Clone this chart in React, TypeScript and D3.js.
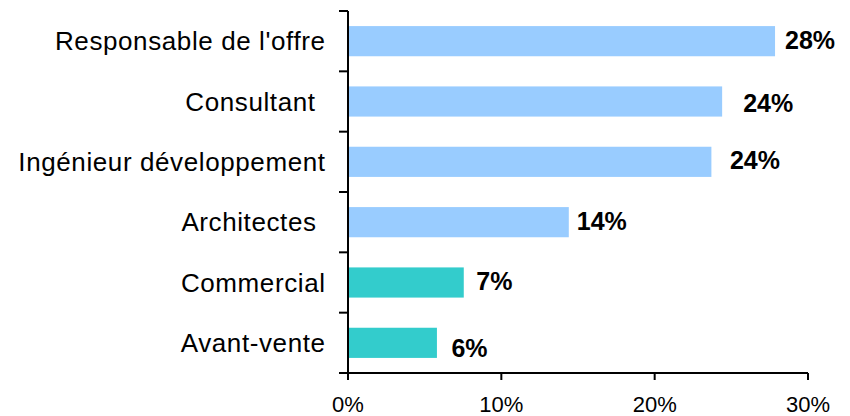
import React from "react";
import * as d3 from "d3";

const categories = [
  "Responsable de l'offre",
  "Consultant",
  "Ingénieur développement",
  "Architectes",
  "Commercial",
  "Avant-vente",
];
const values = [27.85, 24.4, 23.7, 14.4, 7.55, 5.8];
const valueLabels = ["28%", "24%", "24%", "14%", "7%", "6%"];
const barGroups = ["tech", "tech", "tech", "tech", "sales", "sales"];
const xTicks = [0, 10, 20, 30];
// layout nudges (px) for label placement, as in the original
const labelNudge = [1, 12, 9.5, -1, 3.5, 5.5];
const labelLift = [-1, 1, -2.3, -1, -2, 5.5];
const catNudge = [0, 10, 0, 9, 0, 0];

const W = 850;
const H = 416;
const left = 348;
const right = 808;
const top = 11;
const bottom = 373;

export default function App() {
  const x = d3.scaleLinear().domain([0, 30]).range([left, right]);
  const y = d3.scaleBand<string>().domain(categories).range([top, bottom]).paddingInner(0.5).paddingOuter(0.25);
  const band = d3.scaleBand<string>().domain(categories).range([top, bottom]);
  const color = (g: string) => (g === "tech" ? "#99CCFF" : "#33CCCC");
  const font = "Arial, 'Liberation Sans', sans-serif";

  return (
    <svg width={W} height={H} style={{ position: "absolute", left: 0, top: 0 }} fontFamily={font}>
      <rect width={W} height={H} fill="#fff" />
      {categories.map((c, i) => (
        <rect key={c} x={x(0)} y={y(c)!} width={x(values[i]) - x(0)} height={y.bandwidth()} fill={color(barGroups[i])} />
      ))}
      {/* y axis */}
      <line x1={left} x2={left} y1={top} y2={bottom} stroke="#000" strokeWidth={2} />
      {[...categories.map((c) => band(c)!), bottom].map((t, i) => (
        <line key={i} x1={left - 9} x2={left} y1={t} y2={t} stroke="#000" strokeWidth={2} />
      ))}
      {/* x axis */}
      <line x1={left} x2={right} y1={bottom} y2={bottom} stroke="#000" strokeWidth={2} />
      {xTicks.map((t) => (
        <g key={t}>
          <line x1={x(t)} x2={x(t)} y1={bottom} y2={bottom + 7} stroke="#000" strokeWidth={2} />
          <text x={x(t)} y={bottom + 39} textAnchor="middle" fontSize={22} fill="#000">
            {t}%
          </text>
        </g>
      ))}
      {categories.map((c, i) => (
        <text key={c} x={325.6 - catNudge[i]} y={band(c)! + band.bandwidth() / 2 + 9} textAnchor="end" fontSize={26} letterSpacing={0.6} fill="#000">
          {c}
        </text>
      ))}
      {categories.map((c, i) => (
        <text key={c} x={x(values[i]) + 9 + labelNudge[i]} y={y(c)! + y.bandwidth() / 2 + 9 + labelLift[i]} fontSize={25} fontWeight="bold" fill="#000">
          {valueLabels[i]}
        </text>
      ))}
    </svg>
  );
}
